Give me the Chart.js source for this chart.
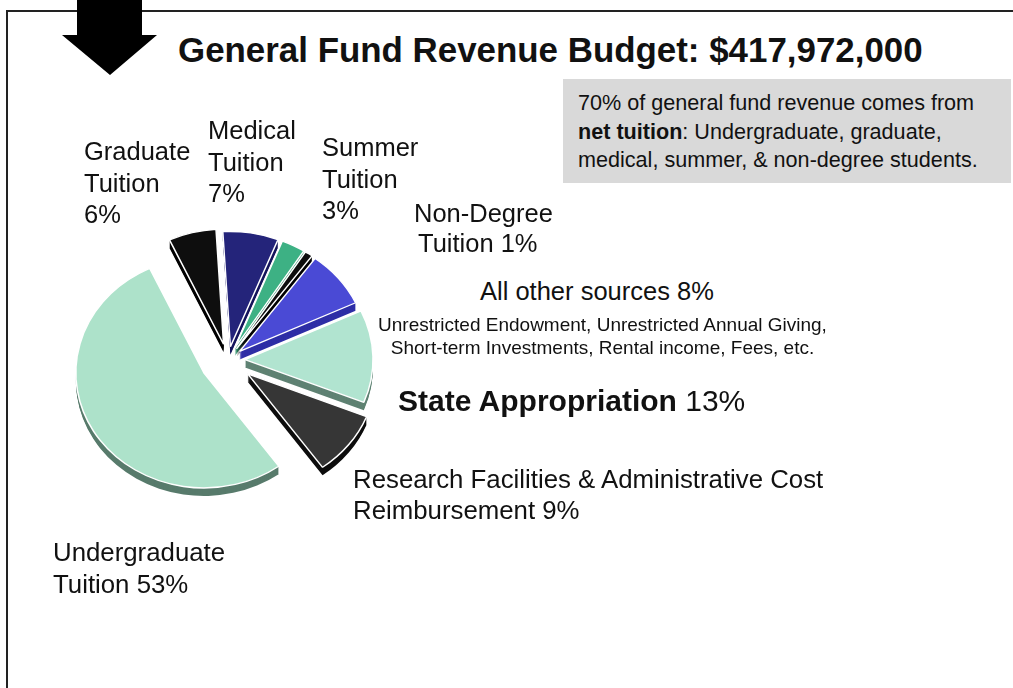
<!DOCTYPE html>
<html>
<head>
<meta charset="utf-8">
<script src="https://cdn.jsdelivr.net/npm/chart.js@4.4.1/dist/chart.umd.min.js"></script>
<style>
  html, body { margin:0; padding:0; background:#fff; }
  body { width:1013px; height:688px; position:relative; overflow:hidden; font-family:"Liberation Sans", Arial, sans-serif; color:#111; }
  .t { position:absolute; white-space:nowrap; }
  #frameTop { position:absolute; left:6px; top:10px; width:1007px; height:2px; background:#222; }
  #frameLeft { position:absolute; left:6px; top:10px; width:2px; height:678px; background:#222; }
  #note { position:absolute; left:563px; top:79px; width:448px; height:104px; background:#d9d9d9; }
  #pieWrap { position:absolute; left:28px; top:160px; width:400px; height:400px; }
</style>
</head>
<body>
<div id="frameTop"></div>
<div id="frameLeft"></div>
<svg style="position:absolute;left:0;top:0" width="170" height="80">
  <polygon points="77,0 142,0 142,35 157,35 110,75 62,35 77,35" fill="#000"/>
</svg>
<div class="t" id="title" style="left:178px; top:30px; font-size:34.9px; line-height:40px; font-weight:bold;"></div>
<div id="note"></div>
<div class="t" id="noteText" style="left:578px; top:89px; font-size:21.6px; line-height:28.5px;"></div>
<div id="pieWrap"><canvas id="c" width="400" height="400"></canvas></div>
<div id="labels"></div>
<script>
// ---- data ----
const titleText = 'General Fund Revenue Budget: $417,972,000';
const noteLines = ['70% of general fund revenue comes from', '<b>net tuition</b>: Undergraduate, graduate,', 'medical, summer, & non-degree students.'];
const categories = ['Graduate Tuition', 'Medical Tuition', 'Summer Tuition', 'Non-Degree Tuition', 'All other sources', 'State Appropriation', 'Research Facilities & Administrative Cost Reimbursement', 'Undergraduate Tuition'];
const shares = [6, 7, 3, 1, 8, 13, 9, 53];
const otherSourcesDetail = ['Unrestricted Endowment, Unrestricted Annual Giving,', 'Short-term Investments, Rental income, Fees, etc.'];

// ---- styles ----
const topColors  = ['#0e0e0e', '#24247a', '#3db184', '#0e0e0e', '#4a4ad5', '#b1e4d0', '#363636', '#ade2ca'];
const sideColors = ['#000000', '#15155c', '#2a8a65', '#000000', '#2e2ea6', '#5f8273', '#0d0d0d', '#587b6c'];
const explode    = [18, 15, 15, 15, 15, 17, 25, 28];
const DEPTH = 8, SQUASH = 0.9;

document.getElementById('title').textContent = titleText;
document.getElementById('noteText').innerHTML = noteLines.join('<br>');

function pct(i){ return shares[i] + '%'; }
const labelSpecs = [
  {html: 'Graduate<br>Tuition<br>' + pct(0), x:84, y:136, fs:25.5, lh:31.5},
  {html: 'Medical<br>Tuition<br>' + pct(1), x:208, y:115, fs:25.5, lh:31.5},
  {html: 'Summer<br>Tuition<br>' + pct(2), x:322, y:132, fs:25.5, lh:31.5},
  {html: 'Non-Degree', x:414, y:197, fs:25.5, lh:32},
  {html: 'Tuition ' + pct(3), x:418, y:227, fs:25.5, lh:32},
  {html: 'All other sources ' + pct(4), x:480, y:275, fs:25.5, lh:32},
  {html: otherSourcesDetail.join('<br>'), x:378, y:313, fs:19, lh:23, w:449, center:true},
  {html: '<b>State Appropriation</b> ' + pct(5), x:398, y:384, fs:30, lh:34},
  {html: 'Research Facilities &amp; Administrative Cost<br>Reimbursement ' + pct(6), x:353, y:464, fs:25.8, lh:30.5},
  {html: 'Undergraduate<br>Tuition ' + pct(7), x:53, y:537, fs:25.8, lh:31.5}
];
const lab = document.getElementById('labels');
labelSpecs.forEach(s => {
  const d = document.createElement('div');
  d.className = 't';
  d.style.left = s.x + 'px'; d.style.top = s.y + 'px';
  d.style.fontSize = s.fs + 'px'; d.style.lineHeight = s.lh + 'px';
  if (s.center) { d.style.width = s.w + 'px'; d.style.textAlign = 'center'; }
  d.innerHTML = s.html;
  lab.appendChild(d);
});

function place(c, arc, i, dy) {
  c.translate(0, dy);
  c.translate(arc.x, arc.y);
  c.scale(1, SQUASH);
  c.translate(-arc.x, -arc.y);
  const mid = (arc.startAngle + arc.endAngle) / 2;
  c.translate(Math.cos(mid) * explode[i], Math.sin(mid) * explode[i]);
}

const pie3d = {
  id: 'pie3d',
  beforeDatasetsDraw(chart) {
    const meta = chart.getDatasetMeta(0);
    const c = chart.ctx;
    meta.data.forEach((arc, i) => {
      if (!arc.__orig) {
        const orig = arc.draw;
        arc.__orig = orig;
        arc.draw = function(ctx2, area) {
          ctx2.save();
          place(ctx2, this, i, 0);
          orig.call(this, ctx2, area);
          ctx2.restore();
        };
      }
    });
    meta.data.forEach((arc, i) => {
      const fake = Object.create(arc);
      fake.options = Object.assign({}, arc.options, {backgroundColor: sideColors[i], borderColor: sideColors[i], borderWidth: 0});
      for (let d = DEPTH; d >= 1; d--) {
        c.save();
        place(c, arc, i, d);
        arc.__orig.call(fake, c);
        c.restore();
      }
    });
  }
};

new Chart(document.getElementById('c'), {
  type: 'pie',
  data: {
    labels: categories,
    datasets: [{
      data: shares,
      backgroundColor: topColors,
      borderColor: '#ffffff',
      borderWidth: 1.5,
      offset: 0
    }]
  },
  options: {
    responsive: false,
    animation: false,
    events: [],
    rotation: -25,
    radius: 128,
    layout: { padding: 0 },
    plugins: { legend: { display: false }, tooltip: { enabled: false } }
  },
  plugins: [pie3d]
});
</script>
</body>
</html>
